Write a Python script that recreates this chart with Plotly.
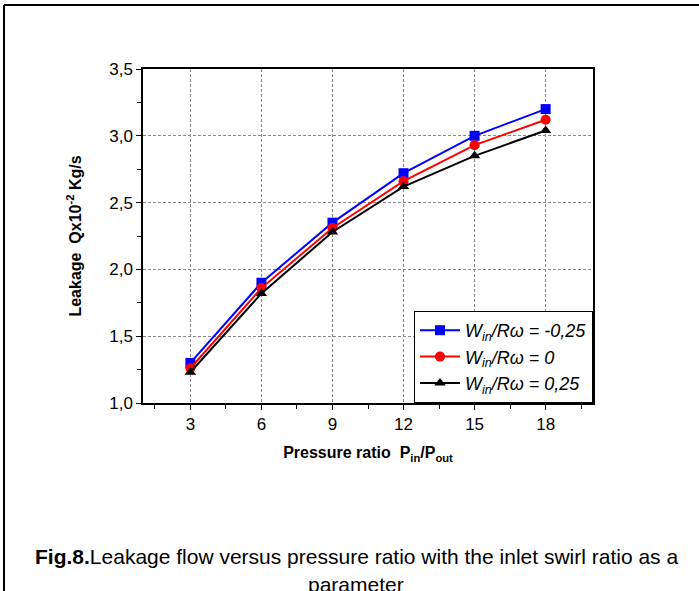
import plotly.graph_objects as go

pressure_ratio = [3, 6, 9, 12, 15, 18]
leak_neg025 = [1.30, 1.90, 2.35, 2.72, 3.00, 3.20]
leak_0 = [1.26, 1.86, 2.31, 2.66, 2.93, 3.12]
leak_pos025 = [1.23, 1.82, 2.28, 2.62, 2.85, 3.04]
series_names = ["<i>W<sub>in</sub>/Rω = -0,25</i>",
                "<i>W<sub>in</sub>/Rω = 0</i>",
                "<i>W<sub>in</sub>/Rω = 0,25</i>"]
x_ticks = [3, 6, 9, 12, 15, 18]
y_ticks = [1.0, 1.5, 2.0, 2.5, 3.0, 3.5]

FONT = "Liberation Sans"

fig = go.Figure()
styles = [("#0000ff", "square"), ("#ff0000", "circle"), ("#000000", "triangle-up")]
for vals, name, (col, sym) in zip([leak_neg025, leak_0, leak_pos025], series_names, styles):
    fig.add_trace(go.Scatter(
        x=pressure_ratio, y=vals, name=name, mode="lines+markers",
        line=dict(color=col, width=2),
        marker=dict(color=col, symbol=sym, size=10),
    ))

axis_common = dict(
    showline=True, linecolor="black", linewidth=1.5, mirror=True,
    ticks="outside", ticklen=5, tickcolor="black", tickwidth=1,
    showgrid=True, gridcolor="#888888", griddash="3px,2px", gridwidth=1,
    zeroline=False, tickfont=dict(family=FONT, size=17, color="black"),
)

fig.update_xaxes(
    range=[1, 20], tickvals=x_ticks,
    minor=dict(dtick=1.5, tick0=1.5, ticks="outside", ticklen=4, tickcolor="black", showgrid=False),
    title=dict(text="<b>Pressure ratio  P<sub>in</sub>/P<sub>out</sub></b>",
               font=dict(family=FONT, size=16, color="black"), standoff=14),
    **axis_common,
)
fig.update_yaxes(
    range=[1.0, 3.5], tickvals=y_ticks, tickformat=".1f",
    minor=dict(dtick=0.25, tick0=1.0, ticks="outside", ticklen=4, tickcolor="black", showgrid=False),
    title=dict(text="<b>Leakage  Qx10<sup>-2</sup> Kg/s</b>",
               font=dict(family=FONT, size=16, color="black"), standoff=24),
    **axis_common,
)

def px(xp):
    return (xp - 143) / 450.0

def py(yp):
    return (403 - yp) / 334.0

fig.add_shape(type="line", xref="paper", yref="paper", x0=px(4), x1=px(705), y0=py(5), y1=py(5),
              line=dict(color="black", width=2))
fig.add_shape(type="line", xref="paper", yref="paper", x0=px(4), x1=px(4), y0=py(5), y1=py(600),
              line=dict(color="black", width=2))

fig.add_annotation(
    xref="paper", yref="paper", x=px(356), y=py(556), xanchor="center", yanchor="middle",
    text="<b>Fig.8.</b>Leakage flow versus pressure ratio with the inlet swirl ratio as a",
    showarrow=False, font=dict(family=FONT, size=21, color="black"),
)
fig.add_annotation(
    xref="paper", yref="paper", x=px(356), y=py(584), xanchor="center", yanchor="middle",
    text="parameter",
    showarrow=False, font=dict(family=FONT, size=21, color="black"),
)

fig.update_layout(
    width=699, height=591,
    margin=dict(l=143, r=106, t=69, b=188),
    paper_bgcolor="white", plot_bgcolor="white",
    separators=",.",
    showlegend=True,
    legend=dict(x=1, y=0, xanchor="right", yanchor="bottom",
                bordercolor="black", borderwidth=1, bgcolor="white",
                font=dict(family=FONT, size=18, color="black"),
                itemwidth=40, tracegroupgap=0),
    font=dict(family=FONT, color="black"),
)

fig.write_html("out.html")
